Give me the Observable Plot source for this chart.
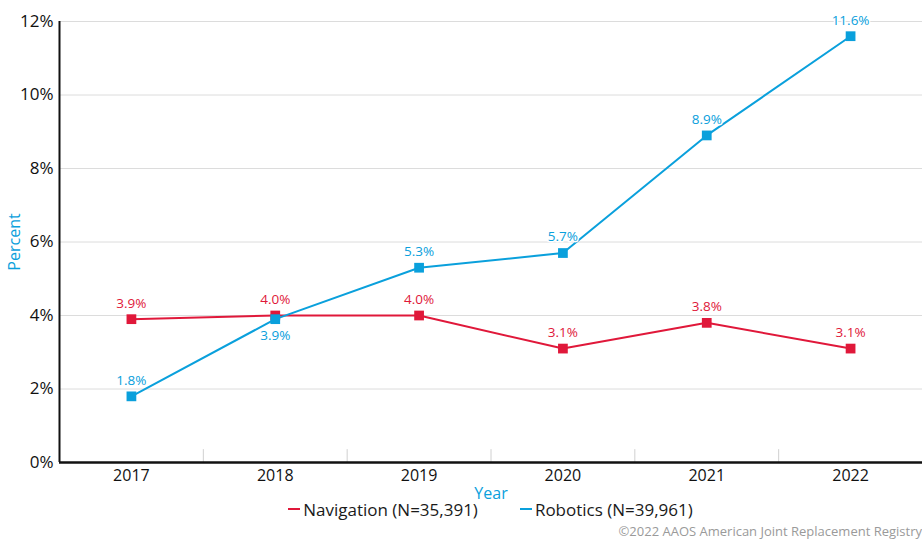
<!DOCTYPE html>
<html>
<head>
<meta charset="utf-8">
<script src="https://cdn.jsdelivr.net/npm/d3@7"></script>
<script src="https://cdn.jsdelivr.net/npm/@observablehq/plot@0.6"></script>
<style>
  html, body { margin: 0; padding: 0; background: #fff; }
  body { width: 922px; height: 540px; overflow: hidden; font-family: "Open Sans", sans-serif; }
  #chart svg { display: block; }
  #legend { height: 18px; margin-top: -2px; display: flex; justify-content: center; align-items: center; gap: 42px; font-size: 17px; color: #1a1a1a; padding-left: 59px; box-sizing: border-box; width: 922px; }
  .item { display: flex; align-items: center; }
  .sw { width: 12px; height: 2px; margin-right: 3px; }
  #credit { text-align: right; font-size: 13px; color: #9a9a9a; width: 922px; margin-top: 5px; line-height: 16px; }
</style>
</head>
<body>
<div id="chart"></div>
<div id="legend"></div>
<div id="credit">©2022 AAOS American Joint Replacement Registry</div>
<script>
const years = [2017, 2018, 2019, 2020, 2021, 2022];
const navigation = [3.9, 4.0, 4.0, 3.1, 3.8, 3.1];
const robotics = [1.8, 3.9, 5.3, 5.7, 8.9, 11.6];
const seriesNames = ["Navigation (N=35,391)", "Robotics (N=39,961)"];
const colors = ["#e0183a", "#0aa0dc"];
const yTicks = [0, 2, 4, 6, 8, 10, 12];
// label placement: 1 = above, -1 = below
const navLabelSide = [1, 1, 1, 1, 1, 1];
const robLabelSide = [1, -1, 1, 1, 1, 1];

const rows = [];
years.forEach((yr, i) => {
  rows.push({year: yr, value: navigation[i], series: seriesNames[0], side: navLabelSide[i]});
  rows.push({year: yr, value: robotics[i], series: seriesNames[1], side: robLabelSide[i]});
});
const separators = years.slice(0, -1).map(y => y + 0.5);
const fmt = v => v.toFixed(1) + "%";

const chart = Plot.plot({
  width: 922,
  height: 502,
  marginLeft: 59,
  marginRight: 0,
  marginTop: 21,
  marginBottom: 40,
  style: {fontFamily: "Open Sans, sans-serif", background: "white", overflow: "visible"},
  x: {domain: [years[0] - 0.5, years[years.length - 1] + 0.5]},
  y: {domain: [0, 12]},
  color: {domain: seriesNames, range: colors},
  marks: [
    Plot.gridY(yTicks.filter(d => d > 0), {stroke: "#dcdcdc", strokeOpacity: 1, strokeWidth: 1}),
    Plot.ruleX(separators, {y1: 0, y2: 0.35, stroke: "#d0d0d0", strokeWidth: 1}),
    Plot.axisY({ticks: yTicks, tickFormat: d => d + "%", tickSize: 0, tickPadding: 6, fontSize: 17, fill: "#111", label: null}),
    Plot.axisY({ticks: [], label: "Percent", labelAnchor: "center", labelArrow: false, labelOffset: 51, fontSize: 16, fill: "#0aa0dc"}),
    Plot.axisX({ticks: years, tickFormat: d => String(d), tickSize: 0, tickPadding: 7, fontSize: 16, fill: "#111", label: null}),
    Plot.axisX({ticks: [], label: "Year", labelAnchor: "center", labelArrow: false, labelOffset: 36, fontSize: 16, fill: "#0aa0dc"}),
    Plot.ruleX([years[0] - 0.5], {stroke: "#111", strokeWidth: 2}),
    Plot.ruleY([0], {stroke: "#111", strokeWidth: 2.5}),
    Plot.line(rows, {x: "year", y: "value", stroke: "series", z: "series", strokeWidth: 2}),
    Plot.dot(rows, {x: "year", y: "value", fill: "series", symbol: "square", r: 5.5, stroke: null}),
    Plot.text(rows.filter(d => d.side > 0), {x: "year", y: "value", text: d => fmt(d.value), fill: "series", dy: -16, fontSize: 13.5, stroke: "white", strokeWidth: 3, paintOrder: "stroke"}),
    Plot.text(rows.filter(d => d.side < 0), {x: "year", y: "value", text: d => fmt(d.value), fill: "series", dy: 16, fontSize: 13.5, stroke: "white", strokeWidth: 3, paintOrder: "stroke"})
  ]
});
document.getElementById("chart").appendChild(chart);

const legend = document.getElementById("legend");
seriesNames.forEach((name, i) => {
  const item = document.createElement("div");
  item.className = "item";
  const sw = document.createElement("span");
  sw.className = "sw";
  sw.style.background = colors[i];
  const lab = document.createElement("span");
  lab.textContent = name;
  item.appendChild(sw);
  item.appendChild(lab);
  legend.appendChild(item);
});
</script>
</body>
</html>
